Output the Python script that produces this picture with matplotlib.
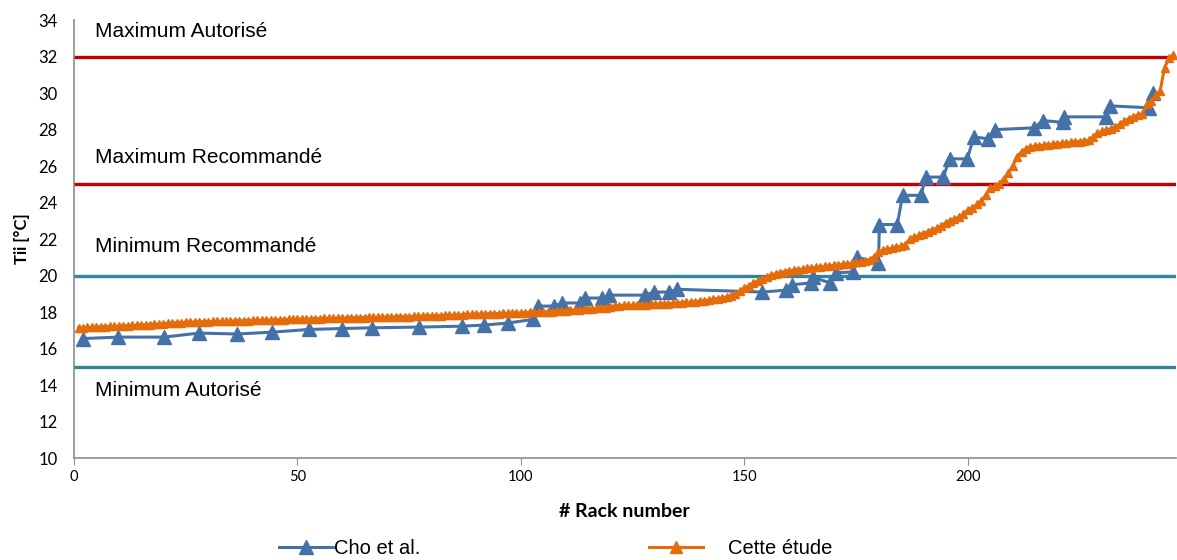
import numpy as np
import matplotlib.pyplot as plt

# Cho et al. (rack position, Tii)
cho_x = [2.0, 9.85, 20.1, 28, 36.5, 44.3, 52.6, 60, 66.7, 77.2, 86.9, 91.8, 97,
         102.8, 103.9, 107.5, 109.2, 113.1, 114.4, 118.2, 119.8, 127.8, 129.8, 133.2, 135,
         154.0, 159.2, 160.7, 164.8, 165.4, 169.2, 170.4, 174.2, 175.3, 180, 180.2,
         184.2, 185.4, 189.4, 190.7, 194.5, 195.9, 199.9, 201.3, 204.6, 206,
         214.9, 216.7, 221.2, 221.6, 230.8, 231.9, 240.5, 241.5]
cho_y = [16.55, 16.63, 16.63, 16.85, 16.8, 16.9, 17.05, 17.1, 17.14, 17.18, 17.23, 17.29, 17.4,
         17.6, 18.33, 18.33, 18.5, 18.5, 18.77, 18.77, 18.93, 18.93, 19.1, 19.1, 19.25,
         19.1, 19.2, 19.5, 19.6, 19.9, 19.6, 20.15, 20.2, 21.0, 20.7, 22.8,
         22.8, 24.4, 24.4, 25.4, 25.4, 26.4, 26.4, 27.6, 27.5, 28.0,
         28.1, 28.5, 28.4, 28.7, 28.7, 29.3, 29.2, 30.0]

# Cette etude: one value per rack, racks 1..246
etude_y = [
    17.15, 17.15, 17.17, 17.18, 17.18, 17.2, 17.2, 17.22, 17.22, 17.23,
    17.25, 17.25, 17.27, 17.28, 17.3, 17.3, 17.32, 17.33, 17.35, 17.36,
    17.38, 17.4, 17.42, 17.43, 17.45, 17.45, 17.46, 17.47, 17.48, 17.48,
    17.49, 17.5, 17.5, 17.5, 17.51, 17.52, 17.52, 17.53, 17.54, 17.55,
    17.55, 17.56, 17.57, 17.57, 17.58, 17.58, 17.59, 17.6, 17.6, 17.61,
    17.62, 17.62, 17.63, 17.64, 17.64, 17.65, 17.66, 17.66, 17.67, 17.67,
    17.68, 17.69, 17.69, 17.7, 17.7, 17.71, 17.71, 17.72, 17.72, 17.73,
    17.73, 17.74, 17.74, 17.75, 17.75, 17.76, 17.77, 17.78, 17.79, 17.8,
    17.8, 17.81, 17.82, 17.83, 17.84, 17.85, 17.86, 17.87, 17.88, 17.89,
    17.9, 17.9, 17.91, 17.92, 17.92, 17.93, 17.94, 17.95, 17.95, 17.96,
    17.97, 17.98, 17.98, 17.99, 18.0, 18.02, 18.03, 18.05, 18.06, 18.08,
    18.1, 18.12, 18.13, 18.15, 18.17, 18.19, 18.2, 18.22, 18.24, 18.3,
    18.35, 18.36, 18.37, 18.38, 18.38, 18.39, 18.4, 18.41, 18.42, 18.43,
    18.45, 18.46, 18.47, 18.48, 18.5, 18.52, 18.53, 18.55, 18.57, 18.6,
    18.63, 18.66, 18.7, 18.74, 18.78, 18.83, 18.9, 19.0, 19.15, 19.3,
    19.45, 19.6, 19.72, 19.82, 19.92, 20.02, 20.1, 20.17, 20.22, 20.26,
    20.3, 20.33, 20.36, 20.39, 20.42, 20.45, 20.48, 20.5, 20.53, 20.56,
    20.59, 20.62, 20.65, 20.68, 20.72, 20.76, 20.8, 20.85, 21.0, 21.3,
    21.4, 21.45, 21.5, 21.55, 21.6, 21.7, 22.0, 22.1, 22.2, 22.3,
    22.4, 22.5, 22.6, 22.7, 22.9, 23.0, 23.1, 23.2, 23.4, 23.6,
    23.7, 23.9, 24.1, 24.4, 24.8, 24.9, 25.0, 25.3, 25.6, 26.0,
    26.5, 26.8, 26.95, 27.05, 27.1, 27.12, 27.15, 27.18, 27.2, 27.22,
    27.25, 27.27, 27.3, 27.32, 27.35, 27.38, 27.42, 27.6, 27.8, 27.9,
    28.0, 28.05, 28.15, 28.3, 28.45, 28.6, 28.7, 28.8, 28.85, 29.4,
    29.55, 29.9, 30.1, 31.4, 31.9, 32.1]
etude_x = np.arange(1, len(etude_y) + 1)

# limits and their labels
limits = [32, 25, 20, 15]
limit_colors = ['#C00000', '#C00000', '#31859C', '#31859C']
limit_labels = ['Maximum Autorisé', 'Maximum Recommandé', 'Minimum Recommandé', 'Minimum Autorisé']
label_y = [33.4, 26.5, 21.6, 13.7]

blue = '#4472A8'
orange = '#E46C0A'

fig = plt.figure(figsize=(11.77, 5.6), dpi=100)
ax = fig.add_axes([0.0629, 0.182, 0.936, 0.782])

for v, c in zip(limits, limit_colors):
    ax.axhline(v, color=c, lw=2.4, zorder=1)
for t, yy in zip(limit_labels, label_y):
    ax.text(4.6, yy, t, fontsize=15, family='Liberation Sans', va='center', ha='left')

l1, = ax.plot(cho_x, cho_y, color=blue, lw=2.2, marker='^', ms=10, zorder=2)
l2, = ax.plot(etude_x, etude_y, color=orange, lw=2.2, marker='^', ms=6, zorder=3)

ax.set_xlim(0, 246.5)
ax.set_ylim(10, 34)
ax.set_xticks([0, 50, 100, 150, 200])
ax.set_yticks(np.arange(10, 35, 2))
for s in ['top', 'right']:
    ax.spines[s].set_visible(False)
for s in ['left', 'bottom']:
    ax.spines[s].set_color('#8C8C8C')
    ax.spines[s].set_linewidth(1.2)
ax.tick_params(axis='x', length=5, color='#8C8C8C', labelsize=10.5)
ax.tick_params(axis='y', length=0, labelsize=12, pad=12)
for lab in ax.get_xticklabels() + ax.get_yticklabels():
    lab.set_family('Lato')

ax.set_xlabel('# Rack number', fontsize=14, fontweight='bold', family='Lato', labelpad=14)
ax.set_ylabel('Tii [°C]', fontsize=12, fontweight='bold', family='Lato', labelpad=6)

leg1 = fig.legend([l1], ['Cho et al.'], loc='center left', bbox_to_anchor=(0.237, 0.021),
                  frameon=False, prop={'family': 'Liberation Sans', 'size': 14.5},
                  borderpad=0, borderaxespad=0, handlelength=2.7, handletextpad=0.05)
leg2 = fig.legend([l2], ['Cette étude'], loc='center left', bbox_to_anchor=(0.551, 0.021),
                  frameon=False, prop={'family': 'Liberation Sans', 'size': 14.5},
                  borderpad=0, borderaxespad=0, handlelength=2.7, handletextpad=1.25,
                  markerscale=1.5)

fig.savefig('out.png', dpi=100)
